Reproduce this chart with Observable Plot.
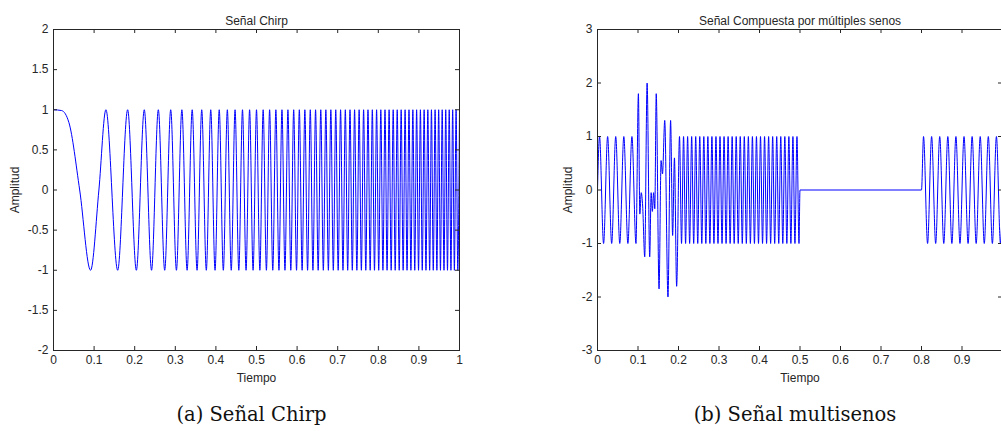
<!DOCTYPE html>
<html><head><meta charset="utf-8">
<script src="https://cdn.jsdelivr.net/npm/d3@7"></script>
<script src="https://cdn.jsdelivr.net/npm/@observablehq/plot@0.6"></script>
<style>
html,body{margin:0;padding:0;background:#fff;overflow:hidden;}
#wrap{position:relative;width:1001px;height:431px;overflow:hidden;background:#fff;}
.panel{position:absolute;top:0;width:500px;height:391px;}
.panel svg{max-width:none !important;display:block;}
.cap{position:absolute;font-family:'DejaVu Serif',serif;font-size:19.5px;color:#111;white-space:nowrap;transform:translateX(-50%);line-height:1;}
</style></head><body>
<div id="wrap">
<div class="panel" id="pa" style="left:0px"></div>
<div class="panel" id="pb" style="left:540px"></div>
<div class="cap" id="ca" style="left:251.5px;top:405px"></div>
<div class="cap" id="cb" style="left:795px;top:405px"></div>
</div>
<script>
// ---- tick values and labels ----
const xTicks = [0, 0.1, 0.2, 0.3, 0.4, 0.5, 0.6, 0.7, 0.8, 0.9, 1];
const xTickLabels = ["0", "0.1", "0.2", "0.3", "0.4", "0.5", "0.6", "0.7", "0.8", "0.9", "1"];
// the right panel is cropped at the picture edge: its "1" label is not visible
const multiXLabelTicks = [0, 0.1, 0.2, 0.3, 0.4, 0.5, 0.6, 0.7, 0.8, 0.9];
const chirpYTicks = [-2, -1.5, -1, -0.5, 0, 0.5, 1, 1.5, 2];
const chirpYTickLabels = ["-2", "-1.5", "-1", "-0.5", "0", "0.5", "1", "1.5", "2"];
const multiYTicks = [-3, -2, -1, 0, 1, 2, 3];
const multiYTickLabels = ["-3", "-2", "-1", "0", "1", "2", "3"];

// ---- texts ----
const chirpTitle = "Señal Chirp";
const multiTitle = "Señal Compuesta por múltiples senos";
const xLabel = "Tiempo";
const yLabel = "Amplitud";
const chirpCaption = "(a) Señal Chirp";
const multiCaption = "(b) Señal multisenos";

// ---- chirp signal: extrema (plus a few points of the first lobe) ----
const chirpT = [0, 0.02, 0.038, 0.0645, 0.0913, 0.1118, 0.1291, 0.1581, 0.1826, 0.2041, 0.2236, 0.2415,
  0.2582, 0.2739, 0.2887, 0.3028, 0.3162, 0.3291, 0.3416, 0.3536, 0.3651, 0.3764,
  0.3873, 0.3979, 0.4082, 0.4183, 0.4282, 0.4378, 0.4472, 0.4564, 0.4655, 0.4743,
  0.4830, 0.4916, 0.5000, 0.5083, 0.5164, 0.5244, 0.5323, 0.5401, 0.5477, 0.5553,
  0.5627, 0.5701, 0.5774, 0.5845, 0.5916, 0.5986, 0.6055, 0.6124, 0.6191, 0.6258,
  0.6325, 0.6390, 0.6455, 0.6519, 0.6583, 0.6646, 0.6708, 0.6770, 0.6831, 0.6892,
  0.6952, 0.7012, 0.7071, 0.7130, 0.7188, 0.7246, 0.7303, 0.7360, 0.7416, 0.7472,
  0.7528, 0.7583, 0.7638, 0.7692, 0.7746, 0.7800, 0.7853, 0.7906, 0.7958, 0.8010,
  0.8062, 0.8114, 0.8165, 0.8216, 0.8266, 0.8317, 0.8367, 0.8416, 0.8466, 0.8515,
  0.8563, 0.8612, 0.8660, 0.8708, 0.8756, 0.8803, 0.8851, 0.8898, 0.8944, 0.8991,
  0.9037, 0.9083, 0.9129, 0.9174, 0.9220, 0.9265, 0.9309, 0.9354, 0.9399, 0.9443,
  0.9487, 0.9531, 0.9574, 0.9618, 0.9661, 0.9704, 0.9747, 0.9789, 0.9832, 0.9874,
  0.9916, 0.9958, 1.0000];
const chirpV = [1, 0.99, 0.84, 0, -1, 0, 1,
  -1, 1, -1, 1, -1, 1, -1, 1, -1, 1, -1, 1, -1, 1, -1, 1, -1, 1, -1, 1,
  -1, 1, -1, 1, -1, 1, -1, 1, -1, 1, -1, 1, -1, 1, -1, 1, -1, 1, -1, 1,
  -1, 1, -1, 1, -1, 1, -1, 1, -1, 1, -1, 1, -1, 1, -1, 1, -1, 1, -1, 1,
  -1, 1, -1, 1, -1, 1, -1, 1, -1, 1, -1, 1, -1, 1, -1, 1, -1, 1, -1, 1,
  -1, 1, -1, 1, -1, 1, -1, 1, -1, 1, -1, 1, -1, 1, -1, 1, -1, 1, -1, 1,
  -1, 1, -1, 1, -1, 1, -1, 1, -1, 1, -1, 1, -1, 1, -1, 1, -1, 1];

// ---- multi-sine signal: extrema ----
const multiT = [
  0, 0.005, 0.015, 0.025, 0.035, 0.045, 0.055, 0.065, 0.075, 0.085, 0.095,
  0.101, 0.1045, 0.108, 0.1115, 0.1166, 0.1225, 0.1289, 0.1325, 0.1355, 0.1385,
  0.1415, 0.145, 0.152, 0.157, 0.1605, 0.166, 0.174, 0.1805, 0.1855, 0.19, 0.1954,
  0.2025, 0.2075, 0.2125, 0.2175, 0.2225, 0.2275, 0.2325, 0.2375, 0.2425, 0.2475,
  0.2525, 0.2575, 0.2625, 0.2675, 0.2725, 0.2775, 0.2825, 0.2875, 0.2925, 0.2975,
  0.3025, 0.3075, 0.3125, 0.3175, 0.3225, 0.3275, 0.3325, 0.3375, 0.3425, 0.3475,
  0.3525, 0.3575, 0.3625, 0.3675, 0.3725, 0.3775, 0.3825, 0.3875, 0.3925, 0.3975,
  0.4025, 0.4075, 0.4125, 0.4175, 0.4225, 0.4275, 0.4325, 0.4375, 0.4425, 0.4475,
  0.4525, 0.4575, 0.4625, 0.4675, 0.4725, 0.4775, 0.4825, 0.4875, 0.4925, 0.4975,
  0.5, 0.8,
  0.805, 0.815, 0.825, 0.835, 0.845, 0.855, 0.865, 0.875, 0.885, 0.895,
  0.905, 0.915, 0.925, 0.935, 0.945, 0.955, 0.965, 0.975, 0.985, 0.995, 1.0];
const multiV = [
  0, 1, -1, 1, -1, 1, -1, 1, -1, 1, -1,
  1.8, -0.45, -0.05, -0.3, -1.25, 2.0, -1.25, -0.05, -0.4, -0.05,
  -0.35, 1.8, -1.85, 0.55, 0.3, 1.3, -2.0, 1.3, -0.85, 0.6, -1.8,
  1, -1, 1, -1, 1, -1, 1, -1, 1, -1,
  1, -1, 1, -1, 1, -1, 1, -1, 1, -1,
  1, -1, 1, -1, 1, -1, 1, -1, 1, -1,
  1, -1, 1, -1, 1, -1, 1, -1, 1, -1,
  1, -1, 1, -1, 1, -1, 1, -1, 1, -1,
  1, -1, 1, -1, 1, -1, 1, -1, 1, -1,
  0, 0,
  1, -1, 1, -1, 1, -1, 1, -1, 1, -1,
  1, -1, 1, -1, 1, -1, 1, -1, 1, -1, 0];

function panel(o) {
  const fw = o.width - o.ml - o.mr, fh = o.height - o.mt - o.mb;
  const ink = "#262626";
  const data = o.t.map((t, i) => ({t, v: o.v[i]}));
  return Plot.plot({
    width: o.width, height: o.height,
    marginLeft: o.ml, marginRight: o.mr, marginTop: o.mt, marginBottom: o.mb,
    style: {fontFamily: "'Liberation Sans', Arial, Helvetica, sans-serif", fontSize: "12px", color: ink, background: "transparent", overflow: "visible", maxWidth: "none"},
    x: {domain: [0, 1]},
    y: {domain: o.yDomain},
    marks: [
      Plot.line(data, {x: "t", y: "v", stroke: "#0000ff", strokeWidth: 1, curve: "monotone-x"}),
      Plot.gridX(o.xTicks, {stroke: ink, strokeOpacity: 1, insetTop: fh - 4}),
      Plot.gridX(o.xTicks, {stroke: ink, strokeOpacity: 1, insetBottom: fh - 4}),
      Plot.gridY(o.yTicks, {stroke: ink, strokeOpacity: 1, insetRight: fw - 4}),
      Plot.gridY(o.yTicks, {stroke: ink, strokeOpacity: 1, insetLeft: fw - 4}),
      Plot.frame({stroke: ink}),
      Plot.axisX(o.xLabelTicks, {tickSize: 0, tickPadding: 5, tickFormat: d => o.xLabels[o.xTicks.indexOf(d)],
        label: xLabel, labelAnchor: "center", labelOffset: 31, labelArrow: "none"}),
      Plot.axisY(o.yTicks, {tickSize: 0, tickPadding: 5, tickFormat: d => o.yLabels[o.yTicks.indexOf(d)],
        label: yLabel, labelAnchor: "center", labelOffset: o.ylo, labelArrow: "none"}),
      Plot.text([o.title], {text: d => d, frameAnchor: "top", dy: -13})
    ]
  });
}

document.getElementById("pa").append(panel({
  width: 480, height: 391, ml: 53, mr: 21, mt: 29, mb: 41,
  yDomain: [-2, 2], xTicks, xLabelTicks: xTicks, xLabels: xTickLabels, yTicks: chirpYTicks, yLabels: chirpYTickLabels,
  t: chirpT, v: chirpV, title: chirpTitle, ylo: 43
}));
document.getElementById("pb").append(panel({
  width: 482, height: 391, ml: 57, mr: 20, mt: 29, mb: 41,
  yDomain: [-3, 3], xTicks, xLabelTicks: multiXLabelTicks, xLabels: xTickLabels, yTicks: multiYTicks, yLabels: multiYTickLabels,
  t: multiT, v: multiV, title: multiTitle, ylo: 34
}));
document.getElementById("ca").textContent = chirpCaption;
document.getElementById("cb").textContent = multiCaption;
</script>
</body></html>
